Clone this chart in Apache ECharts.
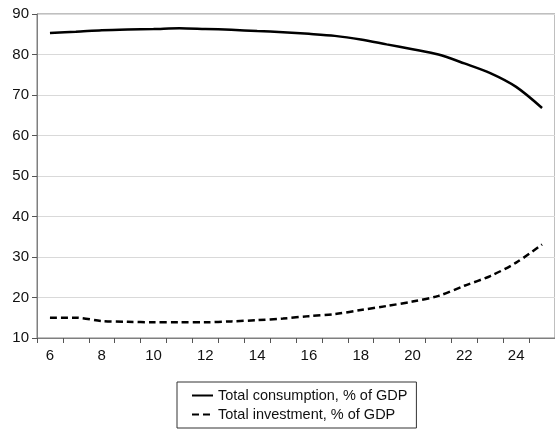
<!DOCTYPE html>
<html>
<head>
<meta charset="utf-8">
<script src="https://cdn.jsdelivr.net/npm/echarts@6/dist/echarts.min.js"></script>
<style>
html,body{margin:0;padding:0;background:#fff;}
#chart{width:555px;height:429px;}
</style>
</head>
<body>
<div id="chart"></div>
<script>
var categories = ['6','7','8','9','10','11','12','13','14','15','16','17','18','19','20','21','22','23','24','25'];
var consumption = [85.3, 85.6, 86.0, 86.2, 86.3, 86.5, 86.3, 86.1, 85.8, 85.5, 85.1, 84.6, 83.7, 82.5, 81.3, 80.0, 77.8, 75.4, 72.0, 66.8];
var investment = [15.0, 15.0, 14.2, 14.0, 13.9, 13.9, 13.9, 14.1, 14.4, 14.8, 15.4, 15.9, 16.9, 17.9, 19.0, 20.4, 22.9, 25.3, 28.6, 33.1];
var yTicks = [10, 20, 30, 40, 50, 60, 70, 80, 90];
var seriesNames = ['Total consumption, % of GDP', 'Total investment, % of GDP'];

var chart = echarts.init(document.getElementById('chart'), null, {renderer: 'canvas'});
var font = 'Arial, "Liberation Sans", sans-serif';
chart.setOption({
  animation: false,
  backgroundColor: '#fff',
  grid: {left: 37, top: 14, right: 0, bottom: 91, show: true, borderColor: '#7f7f7f', borderWidth: 1},
  legend: {
    left: 177, top: 382, orient: 'vertical',
    padding: [6, 9, 6, 14], itemGap: 4, itemWidth: 21, itemHeight: 14,
    borderColor: '#333', borderWidth: 1,
    itemStyle: {color: 'rgba(0,0,0,0)', borderColor: 'rgba(0,0,0,0)', borderWidth: 0},
    textStyle: {fontFamily: font, fontSize: 14.5, color: '#111'},
    data: seriesNames
  },
  xAxis: {
    type: 'category', data: categories, boundaryGap: true,
    axisLine: {lineStyle: {color: '#7f7f7f', width: 1}},
    axisTick: {show: true, interval: 0, length: 5, lineStyle: {color: '#555'}},
    axisLabel: {interval: 1, margin: 10, fontFamily: font, fontSize: 15, color: '#111'},
    splitLine: {show: false}
  },
  yAxis: {
    type: 'value', min: yTicks[0], max: yTicks[yTicks.length - 1], interval: 10,
    axisLine: {show: true, lineStyle: {color: '#7f7f7f', width: 1}},
    axisTick: {show: true, length: 5, lineStyle: {color: '#555'}},
    axisLabel: {margin: 8, fontFamily: font, fontSize: 15, color: '#111'},
    splitLine: {show: true, lineStyle: {color: '#d9d9d9', width: 1}}
  },
  series: [
    {name: seriesNames[0], type: 'line', data: consumption, symbol: 'none', smooth: 0.3,
     lineStyle: {color: '#000', width: 2.5, type: 'solid'}, itemStyle: {color: '#000'}},
    {name: seriesNames[1], type: 'line', data: investment, symbol: 'none', smooth: 0.3,
     lineStyle: {color: '#000', width: 2.5, type: [7, 4]}, itemStyle: {color: '#000'}}
  ]
});
</script>
</body>
</html>
